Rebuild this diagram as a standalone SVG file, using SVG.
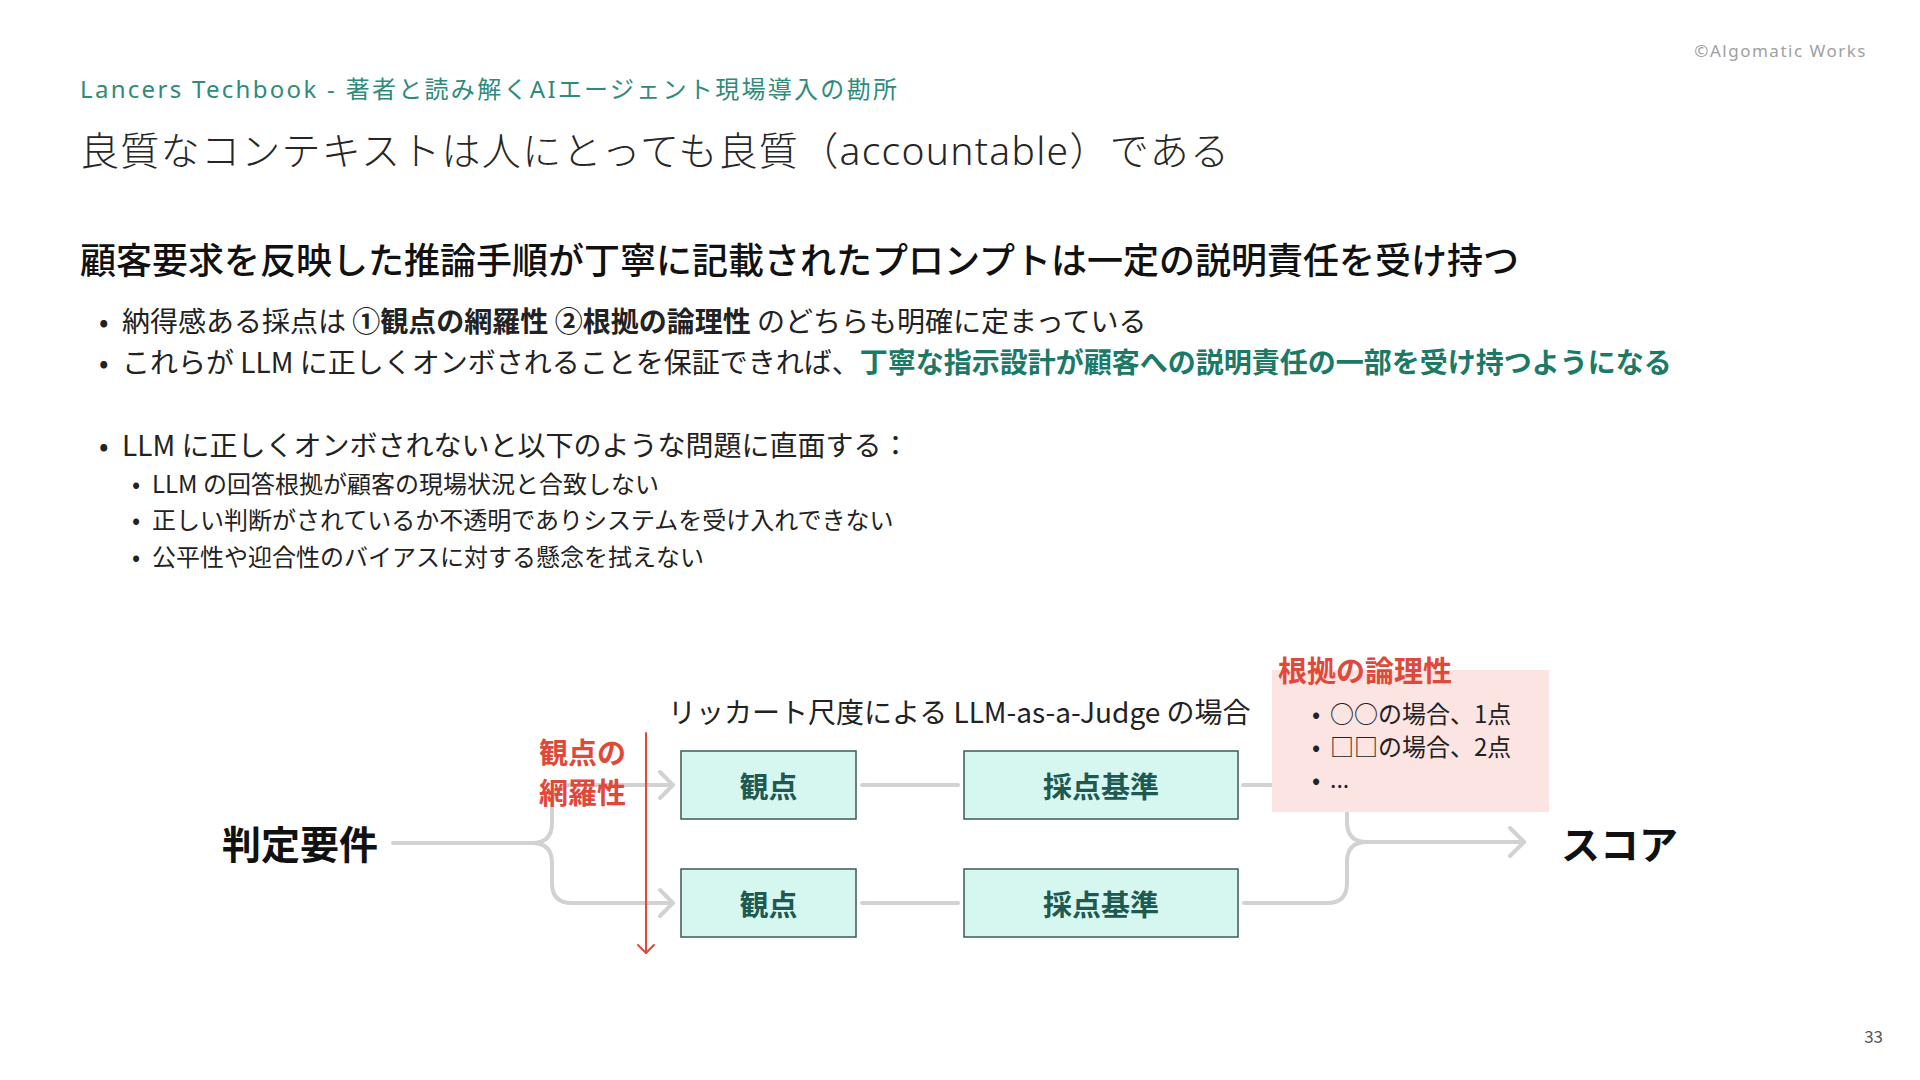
<svg xmlns="http://www.w3.org/2000/svg" width="1920" height="1080" viewBox="0 0 1920 1080">
<style>
text{font-family:"Noto Sans CJK JP","Noto Sans",sans-serif;dominant-baseline:central;fill:#222}
.hdr{font-family:"Noto Sans","Noto Sans CJK JP",sans-serif;font-size:24px;fill:#2e8b7a;letter-spacing:2.3px}
.ttl{font-family:"Noto Sans","Noto Sans CJK JP",sans-serif;font-size:39px;font-weight:300;fill:#262626;letter-spacing:1.3px}
.h2{font-size:36px;font-weight:500;fill:#111}
.b{font-size:28px}
.s{font-size:24px}
.bold{font-weight:700}
.grn{font-weight:700;fill:#1b7a66}
.big{font-size:39px;font-weight:700;fill:#111}
.box{fill:#d6f7f0;stroke:#3d5a5a;stroke-width:1.5}
.bt{font-size:29px;font-weight:700;fill:#1e5a52;text-anchor:middle}
.red{font-size:29px;font-weight:700;fill:#e0483a}
.con{fill:none;stroke:#d2d2d2;stroke-width:4;stroke-linecap:round;stroke-linejoin:round}
.rl{fill:none;stroke:#e0483a;stroke-width:2;stroke-linecap:round;stroke-linejoin:round}
</style>
<rect width="1920" height="1080" fill="#fff"/>
<text x="1867" y="50" style="font-family:'Noto Sans',sans-serif;font-size:17px;fill:#a0a0a0;text-anchor:end;letter-spacing:1.5px">©Algomatic Works</text>
<text x="80" y="88" class="hdr">Lancers Techbook - 著者と読み解くAIエージェント現場導入の勘所</text>
<text x="80" y="149" class="ttl">良質なコンテキストは人にとっても良質（accountable）である</text>
<text x="80" y="258" class="h2">顧客要求を反映した推論手順が丁寧に記載されたプロンプトは一定の説明責任を受け持つ</text>
<g>
<text x="99" y="320" class="b">•</text>
<text x="122" y="320" class="b">納得感ある採点は <tspan class="bold">①観点の網羅性 ②根拠の論理性</tspan> のどちらも明確に定まっている</text>
<text x="99" y="361" class="b">•</text>
<text x="122" y="361" class="b">これらが LLM に正しくオンボされることを保証できれば、<tspan class="grn">丁寧な指示設計が顧客への説明責任の一部を受け持つようになる</tspan></text>
<text x="99" y="444" class="b">•</text>
<text x="122" y="444" class="b">LLM に正しくオンボされないと以下のような問題に直面する：</text>
</g>
<g>
<text x="132" y="482" class="s">•</text>
<text x="152" y="482" class="s">LLM の回答根拠が顧客の現場状況と合致しない</text>
<text x="132" y="518" class="s">•</text>
<text x="152" y="518" class="s">正しい判断がされているか不透明でありシステムを受け入れできない</text>
<text x="132" y="555" class="s">•</text>
<text x="152" y="555" class="s">公平性や迎合性のバイアスに対する懸念を拭えない</text>
</g>
<text x="668" y="711" style="font-size:28px;fill:#222">リッカート尺度による LLM-as-a-Judge の場合</text>
<g id="connectors">
<path class="con" d="M393,843 H532 Q552,843 552,823 V805 Q552,785 572,785 H673"/>
<path class="con" d="M532,843 Q552,843 552,863 V883 Q552,903 572,903 H673"/>
<path class="con" d="M660,772 L673,785 L660,798"/>
<path class="con" d="M660,890 L673,903 L660,916"/>
<path class="con" d="M862,785 H958"/>
<path class="con" d="M862,903 H958"/>
<path class="con" d="M1243,785 H1280"/>
<path class="con" d="M1347,805 V822 Q1347,842 1367,842 H1524"/>
<path class="con" d="M1244,903 H1327 Q1347,903 1347,883 V862 Q1347,842 1367,842"/>
<path class="con" d="M1510,828 L1524,842 L1510,856"/>
<path class="rl" d="M646,733 V953"/>
<path class="rl" d="M638,945 L646,953 L654,945"/>
</g>
<g id="node-hantei"><text x="222" y="842" class="big">判定要件</text></g>
<g id="label-moura">
<text x="539" y="751" class="red">観点の</text>
<text x="539" y="791" class="red">網羅性</text>
</g>
<g id="node-kanten1"><rect class="box" x="681" y="751" width="175" height="68"/><text x="768.5" y="785" class="bt">観点</text></g>
<g id="node-kanten2"><rect class="box" x="681" y="869" width="175" height="68"/><text x="768.5" y="903" class="bt">観点</text></g>
<g id="node-kijun1"><rect class="box" x="964" y="751" width="274" height="68"/><text x="1101" y="785" class="bt">採点基準</text></g>
<g id="node-kijun2"><rect class="box" x="964" y="869" width="274" height="68"/><text x="1101" y="903" class="bt">採点基準</text></g>
<g id="node-konkyo">
<rect x="1272" y="670" width="277" height="142" fill="#fbe4e2"/>
<text x="1278" y="669" class="red">根拠の論理性</text>
<text x="1312" y="712" class="s">•</text>
<text x="1330" y="712" class="s">○○の場合、1点</text>
<text x="1312" y="745" class="s">•</text>
<text x="1330" y="745" class="s">□□の場合、2点</text>
<text x="1312" y="778" class="s">•</text>
<text x="1330" y="778" class="s" style="font-family:'Noto Sans',sans-serif">...</text>
</g>
<g id="node-score"><text x="1561" y="842" class="big">スコア</text></g>
<text x="1883" y="1035" style="font-size:17px;fill:#555;text-anchor:end">33</text>
</svg>
